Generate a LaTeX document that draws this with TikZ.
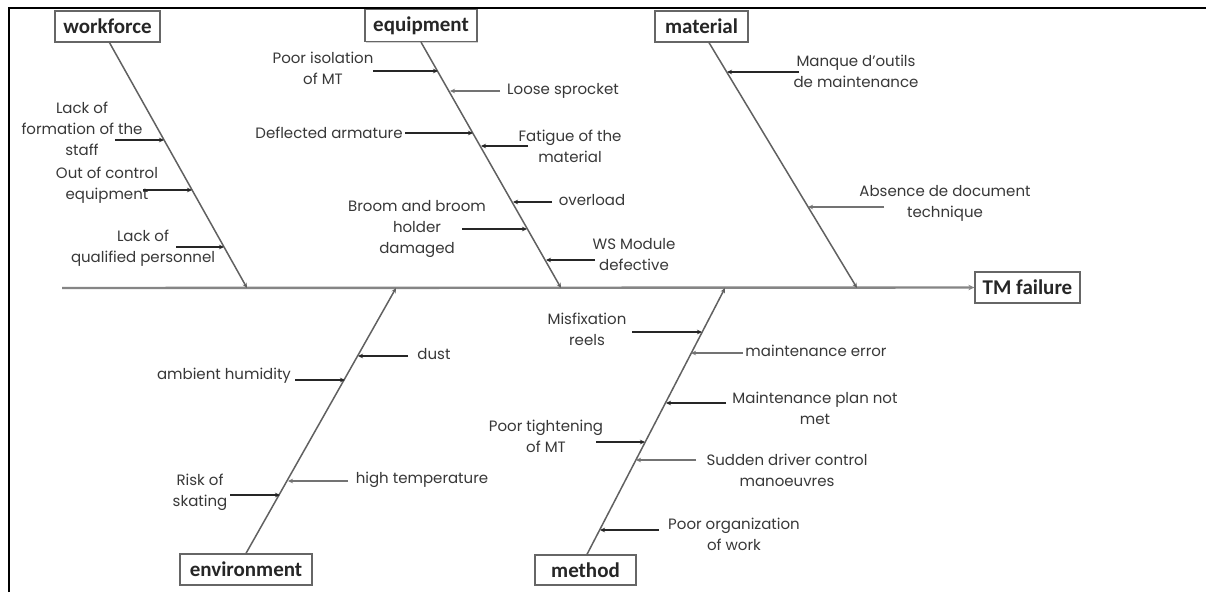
\documentclass[tikz,border=0pt]{standalone}
\usepackage{fontspec}
\setmainfont{Poppins}
\newfontfamily\boxfont{Carlito}
\usetikzlibrary{arrows.meta,shadows}
\tikzset{
  catbox/.style={draw=black!60, line width=1.3pt, fill=white, inner sep=0pt,
    font=\boxfont\bfseries\fontsize{21}{21}\selectfont, text=black!85,
    drop shadow={shadow xshift=1.2pt, shadow yshift=-1.2pt, opacity=0.35, fill=black!50}},
  cause/.style={font=\fontsize{15}{21}\selectfont, text=black!78, align=center, inner sep=0pt},
  branch/.style={draw=black!62, line width=1.5pt, -{Stealth[length=5pt,width=4.5pt]}},
  sub/.style={draw=black!85, line width=1.4pt, -{Stealth[length=5pt,width=4.5pt]}},
  subg/.style={sub, draw=black!55},
  spine/.style={draw=black!48, line width=2.4pt, -{Stealth[length=6pt,width=5.5pt]}}
}
\begin{document}
\begin{tikzpicture}[x=1pt,y=-1pt]
\useasboundingbox (0,0) rectangle (1206,592);
\fill[white] (0,0) rectangle (1206,592);
% frame
\draw[line width=2.2pt] (9,592) -- (9,8) -- (1206,8);

% boxes
\node[catbox, minimum width=105pt, minimum height=31pt] (wf) at (107.5,26.5) {workforce};
\node[catbox, minimum width=112pt, minimum height=32pt] (eq) at (421,25.5) {equipment};
\node[catbox, minimum width=93pt, minimum height=31pt] (mat) at (701.5,26.5) {material};
\node[catbox, minimum width=132pt, minimum height=31pt] (env) at (246,569.5) {environment};
\node[catbox, minimum width=101pt, minimum height=30pt] (meth) at (585.5,570) {method};
\node[catbox, minimum width=105pt, minimum height=31pt] (tm) at (1027.5,287.5) {TM failure};

% spine
\coordinate (sp0) at (62,288);
\draw[spine] (sp0) -- (tm.west);

% branch ends
\coordinate (wfe) at (247,288);
\coordinate (eqe) at (561,288);
\coordinate (mate) at (857,288);
\coordinate (enve) at (396,288);
\coordinate (methe) at (725,288);
\draw[branch] ([xshift=2pt]wf.south) -- (wfe);
\draw[branch] (eq.south) -- (eqe);
\draw[branch] ([xshift=7.5pt]mat.south) -- (mate);
\draw[branch] (env.north) -- (enve);
\draw[branch] ([xshift=1.5pt]meth.north) -- (methe);

% workforce causes
\node[cause] (w1) at (82,129) {Lack of\\formation of the\\staff};
\node[cause] (w2) at (107,185) {Out of control\\equipment};
\node[cause] (w3) at (143,248) {Lack of\\qualified personnel};
\coordinate (w1a) at (115,140); \coordinate (w1b) at (164,140);
\coordinate (w2a) at (143,190); \coordinate (w2b) at (192,190);
\coordinate (w3a) at (176,247); \coordinate (w3b) at (224,247);
\draw[sub] (w1a) -- (w1b);
\draw[sub] (w2a) -- (w2b);
\draw[sub] (w3a) -- (w3b);

% equipment causes
\node[cause] (e1) at (323,68) {Poor isolation\\of MT};
\node[cause] (e2) at (563,91) {Loose sprocket};
\node[cause] (e3) at (329,133) {Deflected armature};
\node[cause] (e4) at (570,146) {Fatigue of the\\material};
\node[cause] (e5) at (592,200) {overload};
\node[cause] (e6) at (417,229) {Broom and broom\\holder\\damaged};
\node[cause] (e7) at (634,255) {WS Module\\defective};
\coordinate (e1a) at (373,71); \coordinate (e1b) at (438,71);
\coordinate (e2a) at (500,91); \coordinate (e2b) at (450,91);
\coordinate (e3a) at (405,133); \coordinate (e3b) at (473,133);
\coordinate (e4a) at (528,146); \coordinate (e4b) at (481,146);
\coordinate (e5a) at (552,202); \coordinate (e5b) at (513,202);
\coordinate (e6a) at (462,229); \coordinate (e6b) at (527,229);
\coordinate (e7a) at (595,260); \coordinate (e7b) at (546,260);
\draw[sub] (e1a) -- (e1b);
\draw[subg] (e2a) -- (e2b);
\draw[sub] (e3a) -- (e3b);
\draw[sub] (e4a) -- (e4b);
\draw[sub] (e5a) -- (e5b);
\draw[sub] (e6a) -- (e6b);
\draw[sub] (e7a) -- (e7b);

% material causes
\node[cause] (m1) at (856,71) {Manque d'outils\\de maintenance};
\node[cause] (m2) at (945,203) {Absence de document\\technique};
\coordinate (m1a) at (799,72); \coordinate (m1b) at (727,72);
\coordinate (m2a) at (884,207); \coordinate (m2b) at (808,207);
\draw[sub] (m1a) -- (m1b);
\draw[subg] (m2a) -- (m2b);

% environment causes
\node[cause] (n1) at (434,354) {dust};
\node[cause] (n2) at (224,376) {ambient humidity};
\node[cause] (n3) at (200,492) {Risk of\\skating};
\node[cause] (n4) at (422,480) {high temperature};
\coordinate (n1a) at (408,356); \coordinate (n1b) at (358,356);
\coordinate (n2a) at (295,380); \coordinate (n2b) at (345,380);
\coordinate (n3a) at (230,495); \coordinate (n3b) at (280,495);
\coordinate (n4a) at (348,481); \coordinate (n4b) at (288,481);
\draw[sub] (n1a) -- (n1b);
\draw[sub] (n2a) -- (n2b);
\draw[sub] (n3a) -- (n3b);
\draw[subg] (n4a) -- (n4b);

% method causes
\node[cause] (t1) at (587,329) {Misfixation\\reels};
\node[cause] (t2) at (816,351) {maintenance error};
\node[cause] (t3) at (815,408) {Maintenance plan not\\met};
\node[cause] (t4) at (546,436) {Poor tightening\\of MT};
\node[cause] (t5) at (787,470) {Sudden driver control\\manoeuvres};
\node[cause] (t6) at (734,534) {Poor organization\\of work};
\coordinate (t1a) at (632,332); \coordinate (t1b) at (702,332);
\coordinate (t2a) at (743,353); \coordinate (t2b) at (691,353);
\coordinate (t3a) at (726,403); \coordinate (t3b) at (666,403);
\coordinate (t4a) at (596,442); \coordinate (t4b) at (645,442);
\coordinate (t5a) at (696,460); \coordinate (t5b) at (636,460);
\coordinate (t6a) at (659,530); \coordinate (t6b) at (600,530);
\draw[sub] (t1a) -- (t1b);
\draw[subg] (t2a) -- (t2b);
\draw[sub] (t3a) -- (t3b);
\draw[sub] (t4a) -- (t4b);
\draw[subg] (t5a) -- (t5b);
\draw[sub] (t6a) -- (t6b);
\end{tikzpicture}
\end{document}
